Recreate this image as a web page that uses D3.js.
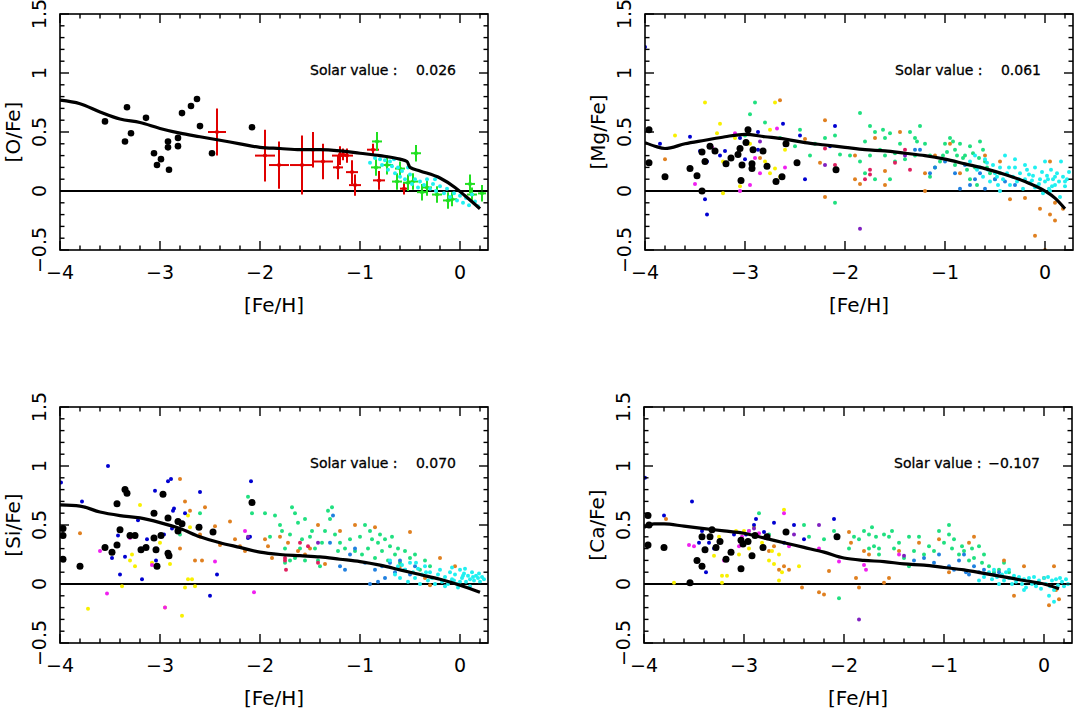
<!DOCTYPE html>
<html><head><meta charset="utf-8">
<script src="https://cdn.jsdelivr.net/npm/d3@7"></script>
<style>body{margin:0;background:#fff}text{font-family:"DejaVu Sans",sans-serif}</style>
</head><body><svg id="c" width="1075" height="712"></svg>
<script>
const xTicks=[-4,-3,-2,-1,0];
const yTicks=[-0.5,0,0.5,1,1.5];
const yTickLabels=["\u22120.5","0","0.5","1","1.5"];
const xTickLabels=["\u22124","\u22123","\u22122","\u22121","0"];
const panelLabels=["[O/Fe]","[Mg/Fe]","[Si/Fe]","[Ca/Fe]"];
const solarValues=["0.026","0.061","0.070","\u22120.107"];

// ---- O panel ----
const oCurve=[[-4,0.77],[-3.8,0.74],[-3.6,0.67],[-3.4,0.61],[-3.2,0.58],[-3,0.53],[-2.8,0.49],[-2.6,0.46],[-2.4,0.43],[-2.2,0.4],[-2,0.37],[-1.8,0.36],[-1.6,0.35],[-1.4,0.35],[-1.2,0.34],[-1,0.32],[-0.8,0.3],[-0.6,0.27],[-0.53,0.25],[-0.5,0.2],[-0.4,0.17],[-0.2,0.11],[-0.05,0.03],[0.05,-0.04],[0.2,-0.15]];
const oBlack=[[-3.55,0.59],[-3.33,0.71],[-3.35,0.42],[-3.29,0.49],[-3.14,0.62],[-3.06,0.32],[-3.03,0.22],[-2.99,0.27],[-2.92,0.42],[-2.92,0.37],[-2.91,0.18],[-2.82,0.38],[-2.82,0.45],[-2.78,0.66],[-2.69,0.72],[-2.63,0.78],[-2.6,0.55],[-2.48,0.32],[-2.08,0.54]];
const oRed=[[-2.43,0.5,0.09,0.2],[-1.95,0.3,0.1,0.22],[-1.81,0.22,0.1,0.2],[-1.58,0.22,0.12,0.25],[-1.47,0.35,0.1,0.15],[-1.37,0.25,0.1,0.15],[-1.22,0.2,0.05,0.1],[-1.2,0.3,0.08,0.08],[-1.17,0.31,0.05,0.05],[-1.13,0.3,0.06,0.06],[-1.08,0.16,0.06,0.1],[-1.05,0.05,0.06,0.09],[-0.87,0.35,0.06,0.05],[-0.81,0.09,0.06,0.08],[-0.56,0.02,0.04,0.05]];
const oGreen=[[-0.83,0.42,0.05,0.08],[-0.84,0.2,0.05,0.07],[-0.73,0.22,0.06,0.08],[-0.63,0.08,0.05,0.07],[-0.52,0.07,0.05,0.07],[-0.44,0.32,0.05,0.07],[-0.47,0.08,0.05,0.07],[-0.38,-0.01,0.05,0.07],[-0.33,0.03,0.05,0.07],[-0.23,-0.03,0.05,0.07],[-0.12,-0.08,0.05,0.07],[-0.08,-0.07,0.05,0.06],[0.1,0.06,0.05,0.08],[0.12,-0.03,0.05,0.06],[0.22,-0.02,0.04,0.07],[-0.6,0.19,0.05,0.06]];
const oCyan=[[-0.85,0.28],[-0.8,0.27],[-0.78,0.22],[-0.75,0.26],[-0.72,0.18],[-0.7,0.25],[-0.68,0.21],[-0.65,0.15],[-0.62,0.2],[-0.6,0.12],[-0.58,0.17],[-0.55,0.1],[-0.5,0.14],[-0.48,0.06],[-0.45,0.1],[-0.42,0.03],[-0.4,0.08],[-0.36,0.05],[-0.33,0.1],[-0.3,0.02],[-0.27,0.06],[-0.24,0.0],[-0.2,0.04],[-0.16,-0.02],[-0.13,0.02],[-0.1,-0.05],[-0.06,-0.02],[-0.03,-0.08],[0.0,-0.04],[0.03,-0.1],[0.06,-0.06],[0.09,-0.12],[0.12,-0.03],[0.15,-0.09],[0.18,-0.13],[-0.9,0.24],[-0.66,0.27],[-0.52,0.2],[-0.25,0.1]];

// ---- Mg panel ----
const mgCurve=[[-4,0.41],[-3.9,0.38],[-3.8,0.36],[-3.6,0.4],[-3.4,0.43],[-3.2,0.46],[-3.0,0.48],[-2.8,0.46],[-2.6,0.44],[-2.4,0.41],[-2.2,0.39],[-2,0.37],[-1.8,0.35],[-1.6,0.34],[-1.4,0.32],[-1.2,0.3],[-1,0.27],[-0.8,0.23],[-0.6,0.19],[-0.4,0.14],[-0.2,0.08],[0,0.0],[0.1,-0.06],[0.2,-0.15]];
const mgBlack=[[-3.96,0.24],[-3.96,0.52],[-3.8,0.12],[-3.55,0.19],[-3.48,0.13],[-3.43,0.0],[-3.43,0.33],[-3.4,0.25],[-3.35,0.38],[-3.3,0.34],[-3.19,0.23],[-3.14,0.28],[-3.07,0.31],[-3.05,0.36],[-3.03,0.22],[-3.04,0.09],[-2.99,0.41],[-2.97,0.52],[-2.93,0.23],[-2.93,0.19],[-2.92,0.35],[-2.82,0.34],[-2.78,0.21],[-2.69,0.08],[-2.63,0.12],[-2.59,0.4],[-2.48,0.24],[-2.09,0.18]];
const mgYellow=[[-3.7,0.47],[-3.4,0.75],[-3.25,0.57],[-3.28,0.49],[-3.22,0.25],[-3.22,-0.02],[-3.05,0.04],[-2.95,0.4],[-2.7,0.75],[-2.75,0.52],[-2.8,0.25],[-2.75,0.15],[-2.7,0.19],[-2.65,0.12],[-3.1,0.45],[-2.6,0.35]];
const mgMagenta=[[-3.5,0.06],[-3.1,0.49],[-3.05,0.0],[-2.95,0.05],[-2.9,0.28],[-2.68,0.53],[-2.6,0.2],[-2.85,0.15],[-3.33,0.37]];
const mgBlue=[[-4,1.22],[-3.85,0.4],[-3.55,0.46],[-3.45,0.34],[-3.4,-0.07],[-3.38,-0.2],[-3.38,0.25],[-3.25,0.3],[-3.05,0.45],[-3.0,0.27],[-2.87,0.5],[-2.87,0.35],[-2.62,0.57],[-2.6,0.39],[-2.45,0.47],[-2.4,0.1],[-2.1,0.55],[-2.15,0.38],[-3.2,0.34]];
const mgOrange=[[-3.8,0.27],[-2.65,0.77],[-2.2,0.6],[-2.25,0.24],[-2.2,-0.05],[-1.85,0.06],[-1.6,0.05],[-1.9,0.1],[-1.7,0.45],[-1.45,0.5],[-1.1,0.3],[-1.2,0.15],[-0.35,-0.07],[-0.2,-0.06],[-0.05,-0.15],[0.05,-0.2],[0.1,-0.25],[0.18,-0.15],[-0.1,-0.38],[0.0,-0.5],[0.1,-0.1],[-0.6,0.3],[-0.95,0.4],[-0.85,0.15],[0.05,0.25],[-0.45,0.25],[-2.4,0.44],[-2.85,0.28],[-1.6,0.17],[-1.9,0.3],[-1.2,0.0]];
const mgTeal=[[-3.0,0.47],[-2.9,0.75],[-2.95,0.65],[-2.8,0.58],[-2.65,0.45],[-2.45,0.52],[-2.35,0.3],[-2.2,0.45],[-2.1,0.47],[-2.05,0.31],[-2.1,-0.1],[-1.85,0.66],[-1.8,0.42],[-1.75,0.55],[-1.7,0.5],[-1.65,0.35],[-1.75,0.3],[-1.6,0.45],[-1.55,0.49],[-1.5,0.32],[-1.4,0.27],[-1.35,0.5],[-1.3,0.45],[-1.25,0.55],[-1.2,0.4],[-1.15,0.3],[-1.1,0.2],[-1.0,0.4],[-0.95,0.45],[-0.9,0.35],[-0.85,0.4],[-0.8,0.3],[-0.75,0.38],[-0.7,0.2],[-0.65,0.42],[-0.6,0.25],[-0.55,0.15],[-0.5,0.1],[-0.45,0.15],[-1.8,0.15],[-1.7,0.1],[-1.55,0.1],[-1.5,0.25],[-1.95,0.3],[-1.3,0.3],[-1.05,0.25],[-0.9,0.22],[-0.75,0.1],[-0.68,0.05],[-1.15,0.12],[-1.85,0.25],[-1.6,0.3],[-1.45,0.4],[-0.98,0.33],[-0.82,0.28],[-0.72,0.32],[-0.62,0.35],[-0.58,0.2],[-1.62,0.52],[-1.28,0.42],[-2.3,0.4],[-2.5,0.38],[-0.88,0.3],[-0.78,0.18],[-0.66,0.28],[-0.92,0.42],[-1.02,0.3]];
const mgCorn=[[-1.3,0.35],[-1.25,0.35],[-1.1,0.2],[-1.0,0.25],[-0.9,0.15],[-0.8,0.22],[-0.75,0.05],[-0.85,0.02],[-0.7,0.1],[-0.65,0.15],[-0.6,0.02],[-1.15,0.15],[-0.5,0.1],[-0.4,0.08],[-0.3,0.05]];
const mgPink=[[-2.1,0.22],[-1.75,0.18],[-1.75,0.14],[-1.8,0.1],[-1.5,0.24],[-1.4,0.35],[-1.35,0.18],[-2.2,0.36]];
const mgPurple=[[-1.85,-0.32],[-2.85,0.42],[-2.2,0.22],[-1.4,0.3]];
const mgCyan=[[-0.75,0.25],[-0.7,0.3],[-0.65,0.2],[-0.62,0.12],[-0.6,0.27],[-0.57,0.18],[-0.55,0.08],[-0.52,0.22],[-0.5,0.15],[-0.47,0.05],[-0.45,0.2],[-0.42,0.1],[-0.4,0.3],[-0.38,0.15],[-0.35,0.05],[-0.32,0.12],[-0.3,0.2],[-0.28,0.08],[-0.25,0.15],[-0.22,0.02],[-0.2,0.1],[-0.18,0.18],[-0.15,0.07],[-0.12,0.13],[-0.1,0.2],[-0.08,0.04],[-0.05,0.1],[-0.03,0.16],[0.0,0.08],[0.02,0.13],[0.04,0.02],[0.06,0.18],[0.08,0.1],[0.1,0.05],[0.12,0.15],[0.14,0.08],[0.16,0.25],[0.18,0.12],[0.2,0.04],[0.22,0.1],[0.24,0.16],[0.0,0.25],[-0.1,0.03],[-0.3,0.27],[0.05,0.0],[-0.02,-0.02],[0.15,-0.05],[-0.45,0.0],[-0.2,0.22],[-0.68,0.18],[-0.58,0.24],[-0.48,0.12],[-0.36,0.2],[-0.26,0.1],[-0.16,0.14],[-0.06,0.06],[0.03,0.1],[0.1,0.12],[0.2,0.08],[0.07,0.04],[-0.13,0.09]];

// ---- Si panel ----
const siCurve=[[-4,0.67],[-3.8,0.66],[-3.6,0.61],[-3.4,0.58],[-3.2,0.56],[-3,0.52],[-2.8,0.47],[-2.6,0.4],[-2.4,0.35],[-2.2,0.31],[-2,0.27],[-1.8,0.25],[-1.6,0.24],[-1.4,0.23],[-1.2,0.21],[-1,0.19],[-0.8,0.16],[-0.6,0.12],[-0.4,0.08],[-0.2,0.04],[0,-0.01],[0.2,-0.07]];
const siBlack=[[-3.97,0.21],[-3.97,0.41],[-3.97,0.47],[-3.8,0.15],[-3.55,0.31],[-3.48,0.27],[-3.43,0.33],[-3.43,0.68],[-3.4,0.46],[-3.35,0.8],[-3.33,0.77],[-3.3,0.41],[-3.25,0.41],[-3.19,0.29],[-3.14,0.31],[-3.06,0.39],[-3.06,0.6],[-3.04,0.29],[-3.03,0.15],[-2.99,0.41],[-2.97,0.76],[-2.92,0.56],[-2.92,0.26],[-2.91,0.24],[-2.82,0.45],[-2.82,0.53],[-2.78,0.51],[-2.61,0.48],[-2.47,0.44],[-2.08,0.69]];
const siYellow=[[-3.72,-0.21],[-3.38,-0.02],[-3.28,0.25],[-3.3,0.2],[-3.25,0.15],[-3.2,0.67],[-3.0,0.35],[-2.9,0.17],[-2.95,-0.2],[-2.78,-0.27],[-2.75,-0.03],[-2.72,0.04],[-2.68,0.04],[-2.65,-0.02],[-2.7,0.48],[-2.72,0.58],[-3.08,0.18]];
const siMagenta=[[-3.6,0.28],[-3.53,-0.08],[-3.3,0.39],[-3.08,0.16],[-2.95,-0.2],[-2.45,0.19],[-2.06,-0.07],[-2.15,0.45]];
const siBlue=[[-3.99,0.86],[-3.52,1.0],[-3.78,0.7],[-3.48,0.22],[-3.42,0.41],[-3.4,0.08],[-3.35,0.23],[-3.22,0.54],[-3.18,0.04],[-3.13,0.38],[-3.05,0.79],[-3.04,0.2],[-2.96,0.42],[-2.92,0.87],[-2.89,0.89],[-2.87,0.62],[-2.86,0.64],[-2.88,0.47],[-2.75,0.6],[-2.6,0.49],[-2.6,0.78],[-2.43,0.08],[-2.5,-0.1],[-2.09,0.87],[-2.1,0.4],[-2.12,0.39]];
const siOrange=[[-3.8,0.43],[-2.8,0.89],[-2.75,0.7],[-2.7,0.62],[-2.6,0.42],[-2.58,0.2],[-2.65,0.2],[-2.55,0.65],[-2.45,0.49],[-2.4,0.33],[-2.3,0.53],[-2.25,0.38],[-2.2,0.32],[-2.15,0.28],[-1.95,0.38],[-1.92,0.32],[-1.88,0.22],[-1.8,0.4],[-1.72,0.35],[-1.62,0.28],[-1.55,0.25],[-1.5,0.3],[-1.42,0.5],[-1.35,0.17],[-1.2,0.45],[-1.05,0.5],[-0.85,0.48],[-0.6,0.15],[-0.5,0.44],[-0.35,0.05],[-0.2,0.22],[-0.05,0.15],[-0.3,-0.01],[-2.8,0.3],[-2.6,0.4]];
const siTeal=[[-2.12,0.74],[-2.08,0.6],[-2.6,0.6],[-2.8,0.42],[-1.95,0.6],[-1.9,0.4],[-1.85,0.58],[-1.8,0.5],[-1.78,0.45],[-1.75,0.3],[-1.7,0.42],[-1.68,0.65],[-1.65,0.6],[-1.62,0.52],[-1.6,0.3],[-1.58,0.38],[-1.55,0.55],[-1.5,0.4],[-1.48,0.45],[-1.45,0.3],[-1.42,0.2],[-1.38,0.35],[-1.35,0.45],[-1.3,0.55],[-1.28,0.65],[-1.25,0.42],[-1.22,0.28],[-1.2,0.35],[-1.15,0.3],[-1.1,0.38],[-1.05,0.28],[-1.0,0.4],[-0.98,0.25],[-0.95,0.5],[-0.92,0.3],[-0.9,0.45],[-0.88,0.38],[-0.85,0.22],[-0.82,0.35],[-0.8,0.42],[-0.78,0.28],[-0.75,0.38],[-0.72,0.2],[-0.7,0.32],[-0.68,0.4],[-0.65,0.25],[-0.62,0.3],[-0.6,0.18],[-0.55,0.28],[-0.5,0.22],[-0.45,0.25],[-0.4,0.12],[-0.35,0.2],[-0.3,0.15],[-1.55,0.2],[-1.7,0.2],[-1.75,0.18],[-1.4,0.15],[-1.65,0.22],[-1.32,0.62]];
const siCorn=[[-1.27,0.58],[-1.3,0.35],[-1.2,0.15],[-1.15,0.12],[-1.1,0.25],[-1.05,0.3],[-0.95,0.18],[-0.9,0.0],[-0.85,0.12],[-0.82,0.02],[-0.78,0.15],[-0.75,0.05],[-0.7,0.18],[-0.65,0.1],[-0.6,0.2],[-0.55,0.12],[-0.5,0.08],[-0.45,0.15]];
const siPink=[[-1.75,0.22],[-1.75,0.2],[-1.74,0.12],[-1.52,0.32],[-1.6,0.35],[-1.42,0.18]];
const siPurple=[[-2.12,0.4],[-1.42,0.35]];
const siCyan=[[-0.7,0.2],[-0.65,0.08],[-0.62,0.15],[-0.6,0.05],[-0.55,0.12],[-0.52,0.02],[-0.5,0.18],[-0.47,0.1],[-0.45,0.05],[-0.42,0.13],[-0.4,0.0],[-0.38,0.08],[-0.35,0.15],[-0.32,0.03],[-0.3,0.1],[-0.28,0.05],[-0.25,0.0],[-0.22,0.08],[-0.2,0.12],[-0.18,0.02],[-0.15,0.06],[-0.12,0.0],[-0.1,0.1],[-0.08,0.04],[-0.05,0.08],[-0.03,0.0],[0.0,0.12],[0.02,0.05],[0.04,0.09],[0.06,0.02],[0.08,0.07],[0.1,0.04],[0.12,0.1],[0.14,0.03],[0.16,0.07],[0.18,0.05],[0.2,0.02],[0.22,0.06],[0.24,0.04],[0.05,0.13],[-0.02,-0.03],[0.1,-0.02],[-0.15,-0.02],[0.0,0.02],[-0.08,0.14],[-0.58,0.16],[-0.44,0.18],[-0.34,0.1],[-0.06,0.03],[0.03,0.07],[0.13,0.06],[0.19,0.09]];

// ---- Ca panel ----
const caCurve=[[-4,0.48],[-3.9,0.51],[-3.8,0.51],[-3.6,0.49],[-3.4,0.47],[-3.2,0.45],[-3,0.43],[-2.8,0.39],[-2.6,0.35],[-2.4,0.31],[-2.2,0.27],[-2,0.22],[-1.8,0.2],[-1.6,0.19],[-1.4,0.17],[-1.2,0.16],[-1,0.14],[-0.8,0.12],[-0.6,0.09],[-0.4,0.06],[-0.2,0.03],[0,0.0],[0.15,-0.04]];
const caBlack=[[-3.96,0.33],[-3.96,0.58],[-3.95,0.5],[-3.8,0.31],[-3.54,0.01],[-3.47,0.2],[-3.42,0.15],[-3.42,0.4],[-3.39,0.29],[-3.34,0.4],[-3.32,0.46],[-3.28,0.31],[-3.24,0.36],[-3.18,0.21],[-3.13,0.27],[-3.03,0.13],[-3.03,0.37],[-3.01,0.34],[-2.96,0.36],[-2.92,0.24],[-2.89,0.41],[-2.81,0.31],[-2.77,0.4],[-2.58,0.44],[-2.07,0.4]];
const caYellow=[[-3.7,0.01],[-3.3,0.24],[-3.25,0.4],[-3.22,0.07],[-3.22,0.01],[-3.17,0.07],[-3.08,0.45],[-3.0,0.45],[-2.95,0.3],[-2.9,0.48],[-2.82,0.35],[-2.75,0.2],[-2.72,0.28],[-2.7,0.17],[-2.65,0.03],[-2.62,0.1],[-2.6,0.63],[-2.65,0.25],[-2.45,0.15],[-3.05,0.25]];
const caMagenta=[[-3.55,0.33],[-3.5,0.32],[-3.2,0.2],[-3.05,0.32],[-3.02,0.4],[-2.95,0.45],[-2.85,0.43],[-2.6,0.6],[-2.55,0.32],[-2.25,0.3],[-2.05,0.19],[-1.78,0.12],[-1.8,0.16],[-1.45,0.25]];
const caBlue=[[-3.99,0.9],[-3.8,0.58],[-3.52,0.7],[-3.45,0.35],[-3.42,0.45],[-3.38,0.1],[-3.35,0.35],[-3.3,0.3],[-3.1,0.42],[-2.98,0.42],[-2.9,0.5],[-2.88,0.55],[-2.8,0.44],[-2.7,0.52],[-2.5,0.5],[-2.4,0.38],[-2.1,0.55],[-2.6,0.35]];
const caOrange=[[-3.78,0.55],[-2.75,0.28],[-2.7,0.32],[-2.6,0.15],[-2.55,0.12],[-2.42,-0.03],[-2.25,-0.07],[-2.2,-0.09],[-2.15,0.11],[-1.95,0.44],[-1.93,0.35],[-1.88,0.05],[-1.85,-0.03],[-1.8,0.28],[-1.75,0.25],[-1.6,0.01],[-1.55,0.05],[-1.45,0.28],[-1.25,0.35],[-1.05,0.38],[-0.95,0.1],[-0.75,0.35],[-0.7,0.4],[-0.4,0.2],[-0.3,-0.1],[-0.2,0.15],[0.0,0.05],[0.1,0.15],[0.15,-0.13],[0.05,-0.18],[0.12,-0.05],[-2.65,0.12]];
const caTeal=[[-2.85,0.6],[-2.95,0.45],[-2.75,0.42],[-2.4,0.5],[-2.35,0.4],[-2.2,0.38],[-2.1,0.45],[-2.05,-0.12],[-1.95,0.3],[-1.9,0.4],[-1.85,0.38],[-1.8,0.45],[-1.75,0.42],[-1.72,0.48],[-1.7,0.32],[-1.68,0.4],[-1.65,0.3],[-1.6,0.42],[-1.55,0.4],[-1.52,0.45],[-1.5,0.3],[-1.45,0.35],[-1.4,0.22],[-1.35,0.15],[-1.3,0.28],[-1.25,0.4],[-1.2,0.25],[-1.15,0.32],[-1.1,0.28],[-1.05,0.45],[-1.0,0.35],[-0.95,0.42],[-0.92,0.3],[-0.9,0.38],[-0.85,0.25],[-0.82,0.32],[-0.8,0.28],[-0.75,0.2],[-0.72,0.3],[-0.7,0.22],[-0.65,0.32],[-0.62,0.18],[-0.6,0.25],[-0.55,0.15],[-0.5,0.1],[-0.45,0.12],[-0.4,0.18],[-0.35,0.1],[-1.65,0.25],[-1.75,0.3],[-0.95,0.5],[-1.35,0.4]];
const caCorn=[[-1.3,0.2],[-1.2,0.22],[-1.1,0.18],[-1.05,0.25],[-0.95,0.15],[-0.9,0.12],[-0.85,0.2],[-0.8,0.25],[-0.78,0.1],[-0.75,0.08],[-0.7,0.15],[-0.65,0.1],[-0.6,0.12],[-0.5,0.08],[-0.45,0.1]];
const caPurple=[[-1.85,-0.3],[-2.25,0.5],[-2.9,0.47],[-1.4,0.24],[-2.5,0.42]];
const caCyan=[[-0.6,0.06],[-0.55,0.1],[-0.52,0.04],[-0.5,0.12],[-0.47,0.06],[-0.45,0.0],[-0.42,0.08],[-0.4,0.03],[-0.38,0.1],[-0.35,0.05],[-0.32,0.0],[-0.3,0.07],[-0.28,0.02],[-0.25,0.06],[-0.22,0.0],[-0.2,0.04],[-0.18,-0.03],[-0.15,0.05],[-0.12,0.0],[-0.1,0.06],[-0.08,-0.02],[-0.05,0.03],[-0.03,-0.04],[0.0,0.05],[0.02,0.0],[0.04,0.06],[0.06,-0.02],[0.08,0.03],[0.1,-0.05],[0.12,0.04],[0.14,-0.01],[0.16,0.05],[0.18,0.02],[0.2,-0.02],[0.22,0.04],[0.24,0.0],[-0.2,-0.05],[0.05,-0.1],[0.1,-0.15],[-0.35,0.12],[-0.65,0.03]];

const C={black:"#000",red:"#e00000",green:"#20e020",cyan:"#20f0f0",yellow:"#f8f000",magenta:"#f020f0",blue:"#0000d0",orange:"#e08020",teal:"#20e080",corn:"#2080e0",pink:"#e02060",purple:"#8020c0"};
const panels=[
 {x:60,y:14,curve:oCurve,groups:[["black",oBlack,3.3],["cyan",oCyan,2]],crosses:[["red",oRed],["green",oGreen]]},
 {x:645,y:14,curve:mgCurve,groups:[["teal",mgTeal,2],["corn",mgCorn,2],["orange",mgOrange,2],["yellow",mgYellow,2],["magenta",mgMagenta,2],["blue",mgBlue,2],["pink",mgPink,2],["purple",mgPurple,2],["cyan",mgCyan,2],["black",mgBlack,3.5]],crosses:[]},
 {x:60,y:407,curve:siCurve,groups:[["teal",siTeal,2],["corn",siCorn,2],["orange",siOrange,2],["yellow",siYellow,2],["magenta",siMagenta,2],["blue",siBlue,2],["pink",siPink,2],["purple",siPurple,2],["cyan",siCyan,2],["black",siBlack,3.5]],crosses:[]},
 {x:644,y:407,curve:caCurve,groups:[["teal",caTeal,2],["corn",caCorn,2],["orange",caOrange,2],["yellow",caYellow,2],["magenta",caMagenta,2],["blue",caBlue,2],["purple",caPurple,2],["cyan",caCyan,2],["black",caBlack,3.5]],crosses:[]}
];
const W=428,H=236;
const svg=d3.select("#c");
panels.forEach((p,i)=>{
 const g=svg.append("g").attr("transform",`translate(${p.x},${p.y})`);
 const x=d3.scaleLinear().domain([-4,0.28]).range([0,W]);
 const y=d3.scaleLinear().domain([-0.5,1.5]).range([H,0]);
 const cl="clip"+i;
 g.append("clipPath").attr("id",cl).append("rect").attr("width",W).attr("height",H);
 const pg=g.append("g").attr("clip-path",`url(#${cl})`);
 pg.append("line").attr("x1",0).attr("x2",W).attr("y1",y(0)).attr("y2",y(0)).attr("stroke","#000").attr("stroke-width",2);
 p.crosses.forEach(([c,arr])=>{
  arr.forEach(d=>{
   pg.append("line").attr("x1",x(d[0]-d[2])).attr("x2",x(d[0]+d[2])).attr("y1",y(d[1])).attr("y2",y(d[1])).attr("stroke",C[c]).attr("stroke-width",2);
   pg.append("line").attr("x1",x(d[0])).attr("x2",x(d[0])).attr("y1",y(d[1]-d[3])).attr("y2",y(d[1]+d[3])).attr("stroke",C[c]).attr("stroke-width",2);
   pg.append("circle").attr("cx",x(d[0])).attr("cy",y(d[1])).attr("r",2).attr("fill",C[c]);
  });
 });
 p.groups.forEach(([c,arr,r])=>{
  pg.selectAll(null).data(arr).enter().append("circle").attr("cx",d=>x(d[0])).attr("cy",d=>y(d[1])).attr("r",r).attr("fill",C[c]);
 });
 pg.append("path").datum(p.curve).attr("d",d3.line().x(d=>x(d[0])).y(d=>y(d[1])).curve(d3.curveMonotoneX)).attr("fill","none").attr("stroke","#000").attr("stroke-width",3.2);
 g.append("rect").attr("width",W).attr("height",H).attr("fill","none").attr("stroke","#000").attr("stroke-width",1.6);
 d3.range(-4,0.29,0.2).forEach(v=>{const maj=Math.abs(v-Math.round(v))<1e-6;const L=maj?9:4.5;
  g.append("line").attr("x1",x(v)).attr("x2",x(v)).attr("y1",H).attr("y2",H-L).attr("stroke","#000").attr("stroke-width",1.4);
  g.append("line").attr("x1",x(v)).attr("x2",x(v)).attr("y1",0).attr("y2",L).attr("stroke","#000").attr("stroke-width",1.4);});
 d3.range(-0.5,1.51,0.1).forEach(v=>{const maj=Math.abs(v*2-Math.round(v*2))<1e-6;const L=maj?9:4.5;
  g.append("line").attr("y1",y(v)).attr("y2",y(v)).attr("x1",0).attr("x2",L).attr("stroke","#000").attr("stroke-width",1.4);
  g.append("line").attr("y1",y(v)).attr("y2",y(v)).attr("x1",W).attr("x2",W-L).attr("stroke","#000").attr("stroke-width",1.4);});
 xTicks.forEach((v,k)=>g.append("text").attr("x",x(v)).attr("y",H+29).attr("text-anchor","middle").attr("font-size",19).text(xTickLabels[k]));
 yTicks.forEach((v,k)=>g.append("text").attr("transform",`translate(-14,${y(v)}) rotate(-90)`).attr("text-anchor","middle").attr("font-size",19).text(yTickLabels[k]));
 g.append("text").attr("x",W/2).attr("y",H+62).attr("text-anchor","middle").attr("font-size",20).text("[Fe/H]");
 g.append("text").attr("transform",`translate(-40,${H/2}) rotate(-90)`).attr("text-anchor","middle").attr("font-size",20).text(panelLabels[i]);
 g.append("text").attr("x",250).attr("y",61).attr("font-size",14).attr("stroke","#000").attr("stroke-width",0.3).text("Solar value :");
 g.append("text").attr("x",396).attr("y",61).attr("text-anchor","end").attr("font-size",14).attr("stroke","#000").attr("stroke-width",0.3).text(solarValues[i]);
});
</script></body></html>
